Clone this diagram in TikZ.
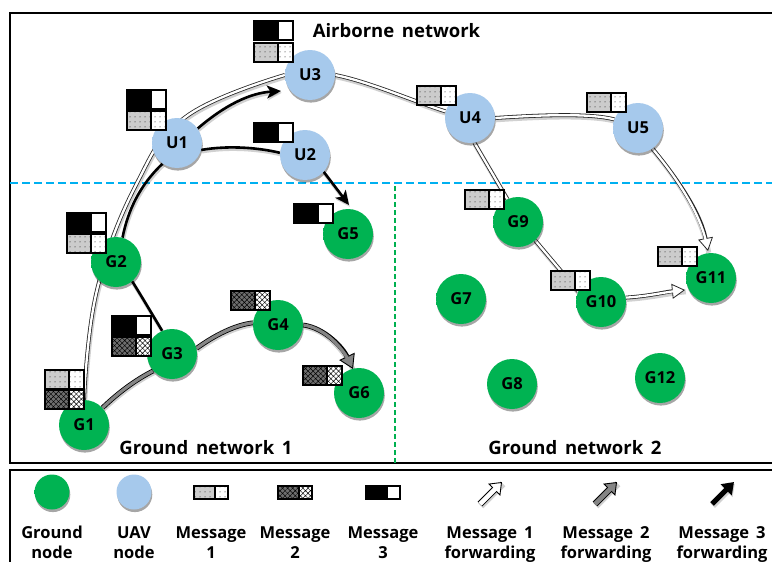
\documentclass[tikz,border=0pt]{standalone}
\usepackage{fontspec}
\setmainfont{Open Sans}[WordSpace=1.6]
\usetikzlibrary{arrows.meta,shadows,patterns.meta}
\definecolor{gA}{HTML}{00B352}
\definecolor{gB}{HTML}{007F38}
\definecolor{bA}{HTML}{A6C9EC}
\definecolor{bB}{HTML}{7398C4}
\definecolor{dashblue}{HTML}{00B0F0}
\definecolor{dashgreen}{HTML}{00B050}
\definecolor{msgtwo}{HTML}{6E6E6E}
\definecolor{fwdgray}{HTML}{858585}
\pgfdeclareradialshading{gball}{\pgfpoint{0bp}{8bp}}{color(0bp)=(gA); color(34bp)=(gA); color(58bp)=(gB)}
\pgfdeclareradialshading{bball}{\pgfpoint{0bp}{8bp}}{color(0bp)=(bA); color(34bp)=(bA); color(58bp)=(bB)}
\pgfdeclarelayer{bg}
\pgfsetlayers{bg,main}
\tikzset{
  nodefont/.style={font=\bfseries\fontsize{16.5}{18}\selectfont},
  titlefont/.style={font=\bfseries\fontsize{18.5}{20}\selectfont},
  legfont/.style={font=\bfseries\fontsize{16.5}{18}\selectfont},
  softshadow/.style={drop shadow={shadow xshift=0.8pt, shadow yshift=-2.6pt, opacity=0.35, fill=black}},
  gnode/.style={circle, minimum size=50pt, inner sep=0pt, shading=gball, nodefont, text=black, softshadow},
  unode/.style={circle, minimum size=50pt, inner sep=0pt, shading=bball, nodefont, text=black, softshadow},
  glegend/.style={gnode, minimum size=35pt},
  ulegend/.style={unode, minimum size=35pt},
  title/.style={titlefont, anchor=base, inner sep=0pt},
  legtext/.style={legfont, anchor=base, inner sep=0pt},
  lineshadow/.style={draw=black, opacity=0.18, line width=5pt, transform canvas={xshift=0.8pt, yshift=-1.8pt}},
  m1/.style={draw=white, line width=2.3pt, shorten >=0pt,
    preaction={lineshadow},
    preaction={draw=black!85, line width=3.9pt}},
  m1a/.style={draw=white, line width=2.3pt, shorten >=6pt,
    preaction={lineshadow, shorten >=0pt},
    preaction={draw=black!85, line width=3.9pt, shorten >=0pt,
      -{Triangle[length=13pt,width=15pt,fill=white,line width=0.8pt]}}},
  m2/.style={draw=fwdgray, line width=3.2pt,
    preaction={lineshadow},
    preaction={draw=black, line width=4.8pt}},
  m2a/.style={draw=fwdgray, line width=3.2pt, shorten >=6pt,
    preaction={lineshadow, shorten >=0pt},
    preaction={draw=black, line width=4.8pt, shorten >=0pt,
      -{Triangle[length=14pt,width=17pt,fill=fwdgray,line width=0.9pt]}}},
  m3/.style={draw=black, line width=2.6pt, preaction={lineshadow, line width=3.5pt}},
  m3a/.style={m3, -{Stealth[length=14pt,width=13pt,inset=3.5pt]}},
  lm1/.style={draw=white, line width=4.6pt, shorten >=6pt,
    preaction={lineshadow, line width=7pt, shorten >=0pt},
    preaction={draw=black, line width=6.4pt, shorten >=0pt,
      -{Triangle[length=11pt,width=17pt,fill=white,line width=0.9pt]}}},
  lm2/.style={draw=fwdgray, line width=4.6pt, shorten >=6pt,
    preaction={lineshadow, line width=7pt, shorten >=0pt},
    preaction={draw=black, line width=6.4pt, shorten >=0pt,
      -{Triangle[length=11pt,width=17pt,fill=fwdgray,line width=0.9pt]}}},
  lm3/.style={draw=black, line width=5pt, preaction={lineshadow, line width=6pt, shorten >=0pt},
      -{Triangle[length=11pt,width=15pt]}},
  boxline/.style={draw=black, line width=1.3pt},
  msgone/.pic={
    \fill[white] (0,0) rectangle (39,19);
    \fill[black!20] (0,0) rectangle (24,19);
    \fill[pattern={Dots[distance=5pt,radius=0.5pt]}, pattern color=black] (0,0) rectangle (39,19);
    \draw[boxline] (0,0) rectangle (39,19) (24,0) -- (24,19);
  },
  msgtwo/.pic={
    \fill[white] (0,0) rectangle (39,19);
    \fill[msgtwo] (0,0) rectangle (24,19);
    \fill[pattern={Hatch[distance=3.6pt,angle=45,line width=0.45pt]}, pattern color=black] (0,0) rectangle (39,19);
    \draw[boxline] (0,0) rectangle (39,19) (24,0) -- (24,19);
  },
  msgthree/.pic={
    \fill[white] (0,0) rectangle (39,19);
    \fill[black] (0,0) rectangle (24,19);
    \draw[boxline] (0,0) rectangle (39,19) (24,0) -- (24,19);
  },
  legbox/.style={xscale=0.87, yscale=0.68},
}
\begin{document}
\begin{tikzpicture}[x=1pt,y=-1pt]
\useasboundingbox (0,0) rectangle (772,562);

% nodes
\node[unode] (U1) at (177,143) {U1};
\node[unode] (U2) at (305,155) {U2};
\node[unode] (U3) at (310,75) {U3};
\node[unode] (U4) at (470,118) {U4};
\node[unode] (U5) at (638,128) {U5};
\node[gnode] (G1) at (84,425) {G1};
\node[gnode] (G2) at (116,262) {G2};
\node[gnode] (G3) at (172,354) {G3};
\node[gnode] (G4) at (278,325) {G4};
\node[gnode] (G5) at (348,234) {G5};
\node[gnode] (G6) at (359,393) {G6};
\node[gnode] (G7) at (461,299) {G7};
\node[gnode] (G8) at (512,384) {G8};
\node[gnode] (G9) at (518,222) {G9};
\node[gnode] (G10) at (601,302) {G10};
\node[gnode] (G11) at (711,278) {G11};
\node[gnode] (G12) at (660,378) {G12};

\coordinate (a3) at (281,91);
\coordinate (a5) at (349,205);
\coordinate (a6) at (353,369);
\coordinate (a10) at (685,290);
\coordinate (a11) at (708,251);

\begin{pgfonlayer}{bg}
  \fill[white] (0,0) rectangle (772,562);
  % frames
  \begin{scope}
  \clip (0,0) rectangle (772,562);
  \draw[line width=1.5pt] (10,13) rectangle (800,463);
  \draw[line width=2pt] (10,470) rectangle (800,600);
  \end{scope}
  \draw[dashblue, line width=1.8pt, dash pattern=on 8pt off 4pt] (10,183) -- (772,183);
  \draw[dashgreen, line width=2pt, dash pattern=on 5pt off 3pt] (395,186) -- (395,463);

  % message 1 forwarding
  \draw[m1] plot[smooth,tension=0.7] coordinates {(G1.north) (97,290) (137,183) (187,116) (U3.west)};
  \draw[m1] (U3.east) .. controls (370,82) and (410,100) .. (U4.165);
  \draw[m1] (U4.east) .. controls (540,115) and (590,113) .. (U5.160);
  \draw[m1a] (U5.-55) .. controls (672,172) and (700,210) .. (a11);
  \draw[m1] (U4.-80) -- (G9.115);
  \draw[m1] (G9.-47) -- (G10.155);
  \draw[m1a] (G10.10) .. controls (650,296) and (665,292) .. (a10);

  % message 3 forwarding
  \draw[m3] (G3.113) .. controls (152,314) and (142,297) .. (G2.-50);
  \draw[m3] (G2.75) .. controls (128,210) and (140,185) .. (U1.-125);
  \draw[m3a] (U1.35) .. controls (225,105) and (250,93) .. (a3);
  \draw[m3] (U1.-16) .. controls (230,145) and (260,148) .. (U2.175);
  \draw[m3a] (U2.-42) -- (a5);

  % message 2 forwarding
  \draw[m2] (G1.43) .. controls (118,393) and (135,380) .. (G3.222);
  \draw[m2] (G3.13) .. controls (215,335) and (235,325) .. (G4.175);
  \draw[m2a] (G4.east) .. controls (325,328) and (343,348) .. (a6);
\end{pgfonlayer}

% message boxes
\pic at (254,21) {msgthree};
\pic at (254,43) {msgone};
\pic at (127,90) {msgthree};
\pic at (127,111) {msgone};
\pic at (254,123) {msgthree};
\pic at (294,204) {msgthree};
\pic at (67,213) {msgthree};
\pic at (67,234) {msgone};
\pic at (112,316) {msgthree};
\pic at (112,337) {msgtwo};
\pic at (45,370) {msgone};
\pic at (45,390) {msgtwo};
\pic at (231,291) {msgtwo};
\pic at (303,366) {msgtwo};
\pic at (417,86) {msgone};
\pic at (587,93) {msgone};
\pic at (465,190) {msgone};
\pic at (551,271) {msgone};
\pic at (658,247) {msgone};

% titles
\node[title] (tair) at (396.5,37) {Airborne network};
\node[title] (tg1) at (206,454) {Ground network 1};
\node[title] (tg2) at (575,454) {Ground network 2};

% legend
\node[glegend] (lg) at (52,492) {};
\node[ulegend] (lu) at (134,492) {};
\pic[legbox] at (194,486) {msgone};
\pic[legbox] at (278,486) {msgtwo};
\pic[legbox] at (366,486) {msgthree};
\coordinate (l1s) at (480,504); \coordinate (l1e) at (502,482);
\coordinate (l2s) at (595,504); \coordinate (l2e) at (617,482);
\coordinate (l3s) at (712,504); \coordinate (l3e) at (734,482);
\draw[lm1] (l1s) -- (l1e);
\draw[lm2] (l2s) -- (l2e);
\draw[lm3] (l3s) -- (l3e);

\node[legtext] (t1a) at (52,538) {Ground};
\node[legtext] (t1b) at (52,558) {node};
\node[legtext] (t2a) at (134,538) {UAV};
\node[legtext] (t2b) at (134,558) {node};
\node[legtext] (t3a) at (211,538) {Message};
\node[legtext] (t3b) at (211,558) {1};
\node[legtext] (t4a) at (295,538) {Message};
\node[legtext] (t4b) at (295,558) {2};
\node[legtext] (t5a) at (383,538) {Message};
\node[legtext] (t5b) at (383,558) {3};
\node[legtext] (t6a) at (490,538) {Message 1};
\node[legtext] (t6b) at (490,558) {forwarding};
\node[legtext] (t7a) at (606,538) {Message 2};
\node[legtext] (t7b) at (606,558) {forwarding};
\node[legtext] (t8a) at (722,538) {Message 3};
\node[legtext] (t8b) at (722,558) {forwarding};
\end{tikzpicture}
\end{document}
